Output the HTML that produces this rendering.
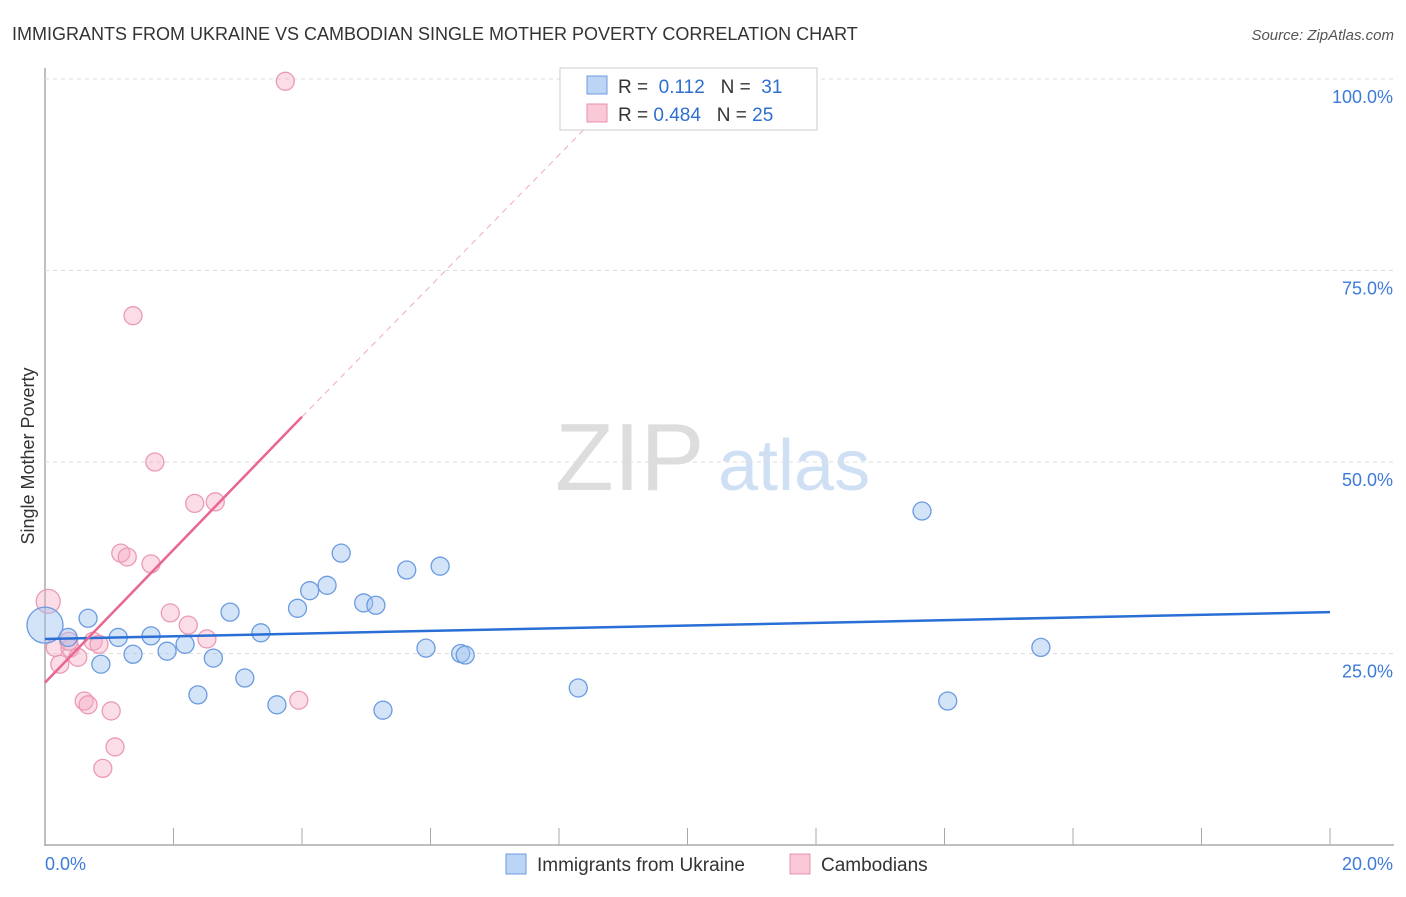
<!DOCTYPE html>
<html><head><meta charset="utf-8">
<style>
body{margin:0;background:#fff;font-family:"Liberation Sans",sans-serif;}
svg text{font-family:"Liberation Sans",sans-serif;}
</style></head>
<body>
<svg id="c" width="1406" height="892" xmlns="http://www.w3.org/2000/svg">
<text x="12" y="40" font-size="18" fill="#333">IMMIGRANTS FROM UKRAINE VS CAMBODIAN SINGLE MOTHER POVERTY CORRELATION CHART</text>
<text x="1394" y="40" font-size="15" fill="#555" font-style="italic" text-anchor="end">Source: ZipAtlas.com</text>
<text x="34" y="456" font-size="18" fill="#333" text-anchor="middle" transform="rotate(-90 34 456)">Single Mother Poverty</text>
<text x="555" y="490" font-size="96" fill="#ddd" font-family="Liberation Serif">ZIP</text>
<text x="718" y="490" font-size="72" fill="#cfe0f5">atlas</text>
<g id="grid"></g>
<g id="marks"></g>
<g>
<rect x="560" y="68" width="257" height="62" fill="#fff" stroke="#ccc"/>
<rect x="587" y="76" width="20" height="18" fill="#bcd5f5" stroke="#6b9be0"/>
<rect x="587" y="104" width="20" height="18" fill="#f9c9d8" stroke="#e890ac"/>
<text x="618" y="93" font-size="19" fill="#333">R = <tspan fill="#2f6fd0">&#160;0.112</tspan>&#160;&#160;&#160;N = <tspan fill="#2f6fd0">&#160;31</tspan></text>
<text x="618" y="121" font-size="19" fill="#333">R = <tspan fill="#2f6fd0">0.484</tspan>&#160;&#160;&#160;N = <tspan fill="#2f6fd0">25</tspan></text>
</g>
<g>
<rect x="506" y="854" width="20" height="20" fill="#bcd5f5" stroke="#6b9be0"/>
<text x="537" y="871" font-size="19" fill="#333">Immigrants from Ukraine</text>
<rect x="790" y="854" width="20" height="20" fill="#f9c9d8" stroke="#e890ac"/>
<text x="821" y="871" font-size="19" fill="#333">Cambodians</text>
</g>
</svg>
<script>
const xTicks=[0,20];
const yTicks=[25,50,75,100];
const blueX=[0,0.36,0.67,0.87,1.14,1.37,1.65,1.9,2.18,2.38,2.62,2.88,3.11,3.36,3.61,3.93,4.12,4.39,4.61,4.96,5.15,5.26,5.63,5.93,6.15,6.47,6.54,8.3,13.65,14.05,15.5];
const blueY=[28.7,27.1,29.6,23.6,27.1,24.9,27.3,25.3,26.2,19.6,24.4,30.4,21.8,27.7,18.3,30.9,33.2,33.9,38.1,31.6,31.3,17.6,35.9,25.7,36.4,25.0,24.8,20.5,43.6,18.8,25.8];
const blueR=[18,9,9,9,9,9,9,9,9,9,9,9,9,9,9,9,9,9,9,9,9,9,9,9,9,9,9,9,9,9,9];
const pinkX=[0.05,0.16,0.23,0.39,0.51,0.61,0.67,0.75,0.84,0.9,1.03,1.09,1.18,1.28,1.37,1.65,1.71,1.95,2.23,2.33,2.52,2.65,3.74,3.95,0.37];
const pinkY=[31.8,25.8,23.6,25.7,24.5,18.8,18.3,26.6,26.2,10.0,17.5,12.8,38.1,37.6,69.1,36.7,50.0,30.3,28.7,44.6,26.9,44.8,99.7,18.9,26.6];
const pinkR=[12,9,9,9,9,9,9,9,9,9,9,9,9,9,9,9,9,9,9,9,9,9,9,9,9];
const blueTrend=[0,26.9,20,30.4];
const pinkTrend=[0,21.2,4.0,55.9,8.47,94.1];
const NS='http://www.w3.org/2000/svg';
const X=v=>45+v/20*1285, Y=v=>845-v/100*766;
function mk(t,a,p){const e=document.createElementNS(NS,t);for(const k in a)e.setAttribute(k,a[k]);p.appendChild(e);return e;}
const g=document.getElementById('grid'), m=document.getElementById('marks');
let ax=mk('line',{x1:45,y1:68,x2:45,y2:846,stroke:'#aaa','stroke-width':1.5},g);


let bx=mk('line',{x1:45,y1:845,x2:1394,y2:845,stroke:'#aaa','stroke-width':1.5},g);


for(let i=0;i<=10;i++){let t=mk('line',{x1:45+i*128.5,y1:828,x2:45+i*128.5,y2:845,stroke:'#aaa'},g);

}
yTicks.forEach(v=>{let l=mk('line',{x1:45,x2:1394,y1:Y(v),y2:Y(v),stroke:'#ddd','stroke-dasharray':'4 4'},g);


let t=mk('text',{x:1393,y:Y(v)+24,'font-size':18,fill:'#3d7bd9','text-anchor':'end'},g);t.textContent=v.toFixed(1)+'%';

});
xTicks.forEach((v,i)=>{let t=mk('text',{x:i?1393:45,y:870,'font-size':18,fill:'#3d7bd9','text-anchor':i?'end':'start'},g);t.textContent=v.toFixed(1)+'%';

});
pinkX.forEach((v,i)=>{let c=mk('circle',{cx:X(v),cy:Y(pinkY[i]),r:pinkR[i],fill:'rgba(244,170,195,0.4)',stroke:'#eb9ab5','stroke-width':1.3},m);

});
blueX.forEach((v,i)=>{let c=mk('circle',{cx:X(v),cy:Y(blueY[i]),r:blueR[i],fill:'rgba(160,195,240,0.45)',stroke:'#6b9be0','stroke-width':1.3},m);

});
let bl=mk('line',{x1:X(blueTrend[0]),y1:Y(blueTrend[1]),x2:X(blueTrend[2]),y2:Y(blueTrend[3]),stroke:'#2a6fd6','stroke-width':2.5},m);


let pl=mk('line',{x1:X(pinkTrend[0]),y1:Y(pinkTrend[1]),x2:X(pinkTrend[2]),y2:Y(pinkTrend[3]),stroke:'#e8668f','stroke-width':2.5},m);


let pd=mk('line',{x1:X(pinkTrend[2]),y1:Y(pinkTrend[3]),x2:X(pinkTrend[4]),y2:Y(pinkTrend[5]),stroke:'#f0a8bf','stroke-width':1,'stroke-dasharray':'6 5'},m);


</script>
</body></html>
